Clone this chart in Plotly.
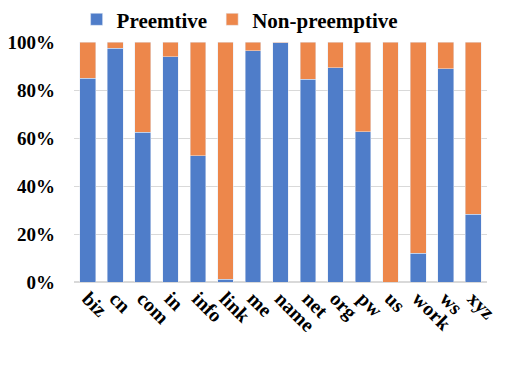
import plotly.graph_objects as go

categories = ["biz", "cn", "com", "in", "info", "link", "me", "name", "net", "org", "pw", "us", "work", "ws", "xyz"]
preemptive = [85.0, 97.5, 62.5, 93.8, 52.6, 1.2, 96.4, 99.7, 84.4, 89.3, 62.6, 0.0, 12.0, 88.8, 28.2]
non_preemptive = [round(100 - v, 1) for v in preemptive]
y_ticks = [0, 20, 40, 60, 80, 100]
y_labels = [f"{t}%" for t in y_ticks]

font_family = "Liberation Serif"

fig = go.Figure()
fig.add_trace(go.Bar(x=categories, y=preemptive, name="<b>Preemtive</b>", marker_color="#4F7DC9"))
fig.add_trace(go.Bar(x=categories, y=non_preemptive, name="<b>Non-preemptive</b>", marker_color="#ED874B"))

fig.update_layout(
    barmode="stack",
    bargap=0.43,
    width=512, height=389,
    margin=dict(l=66, r=33, t=34, b=115, autoexpand=False),
    paper_bgcolor="white", plot_bgcolor="white",
    font=dict(family=font_family, color="black", size=18),
    showlegend=True,
    legend=dict(orientation="h", xref="container", yref="container",
                x=0.134, xanchor="left", y=0.97, yanchor="middle",
                font=dict(size=21, family=font_family), itemwidth=30, traceorder="normal",
                bgcolor="rgba(0,0,0,0)"),
    xaxis=dict(tickangle=45, tickfont=dict(size=20, family=font_family), showline=False,
               ticks="", tickprefix="<b>", ticksuffix="</b>"),
    yaxis=dict(range=[0, 100], tickvals=y_ticks, ticktext=[f"<b>{l}</b>" for l in y_labels],
               showgrid=True, gridcolor="#D9D9D9", gridwidth=1, zeroline=True, zerolinecolor="#D9D9D9",
               tickfont=dict(size=19, family=font_family), ticklabelstandoff=18),
)

fig.write_html("out.html")
